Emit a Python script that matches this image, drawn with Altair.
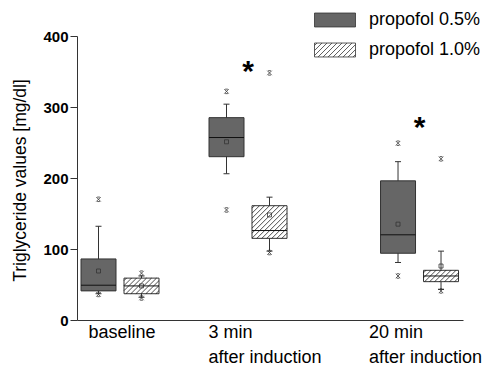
import altair as alt
import pandas as pd
import numpy as np

# ---------------- data ----------------
time_labels = ["baseline", "3 min|after induction", "20 min|after induction"]
time_pos = [1.0, 2.0, 3.34]
treatments = ["propofol 0.5%", "propofol 1.0%"]

# boxes in order: baseline 0.5, baseline 1.0, 3min 0.5, 3min 1.0, 20min 0.5, 20min 1.0
box_time = [0, 0, 1, 1, 2, 2]
box_treat = [0, 1, 0, 1, 0, 1]
q1 = [41, 37, 230, 115, 94, 54]
median = [49, 48, 257, 126, 120, 62]
q3 = [86, 59, 285, 161, 196, 70]
mean = [69, 48, 251, 148, 135, 76]
whisk_hi = [132, 62, 304, 173, 223, 97]
whisk_lo = [37, 32, 206, 97, 81, 43]
v_max = [170, 66, 322, 348, 249, 227]
v_min = [36, 31, 155, 95, 62, 41]

sig_time = [1, 2]
sig_y = [350, 271]

# ---------------- layout constants ----------------
W, H = 386, 284
x_dom = [0.664, 0.664 + W / 128.0]
y_dom = [0, 400]
px_x = W / (x_dom[1] - x_dom[0])
px_y = H / (y_dom[1] - y_dom[0])
half_w = 17.5 / px_x
offset = 21.5 / px_x
cap_w = 3.0 / px_x
dark = "#666666"
edge = "#333333"

df = pd.DataFrame({
    "time": [time_labels[i] for i in box_time],
    "treatment": [treatments[i] for i in box_treat],
    "x": [time_pos[t] + (-offset if k == 0 else offset) for t, k in zip(box_time, box_treat)],
    "q1": q1, "median": median, "q3": q3, "mean": mean,
    "whi": whisk_hi, "wlo": whisk_lo, "vmax": v_max, "vmin": v_min,
})
df["xl"] = df["x"] - half_w
df["xr"] = df["x"] + half_w
df["fillc"] = [dark if k == 0 else "white" for k in box_treat]

caps = pd.concat([
    pd.DataFrame({"x1": df["x"] - cap_w, "x2": df["x"] + cap_w, "y": df["whi"]}),
    pd.DataFrame({"x1": df["x"] - cap_w, "x2": df["x"] + cap_w, "y": df["wlo"]}),
])
extremes = pd.concat([
    pd.DataFrame({"x": df["x"], "y": df["vmax"]}),
    pd.DataFrame({"x": df["x"], "y": df["vmin"]}),
])


def hatch_segments(x0, x1, u0, u1, step):
    segs = []
    c = x0 - u1 + step / 2
    while c < x1 - u0:
        xa = max(x0, u0 + c)
        xb = min(x1, u1 + c)
        if xb > xa:
            segs.append((xa, xa - c, xb, xb - c))
        c += step
    return segs


rows = []
for _, r in df[df["fillc"] == "white"].iterrows():
    X0 = (r["xl"] - x_dom[0]) * px_x
    X1 = (r["xr"] - x_dom[0]) * px_x
    U0 = r["q1"] * px_y
    U1 = r["q3"] * px_y
    for xa, ua, xb, ub in hatch_segments(X0, X1, U0, U1, 5.0):
        rows.append({"x": xa / px_x + x_dom[0], "y": ua / px_y,
                     "x2": xb / px_x + x_dom[0], "y2": ub / px_y})
hatch = pd.DataFrame(rows)

# legend symbol paths
rect_path = "M-1,-0.34H1V0.34H-1Z"
lp = []
for xa, ua, xb, ub in hatch_segments(-1, 1, -0.34, 0.34, 0.244):
    lp.append(f"M{xa:.3f},{-ua:.3f}L{xb:.3f},{-ub:.3f}")
hatch_path = rect_path + " " + " ".join(lp)

sig = pd.DataFrame({"x": [time_pos[i] for i in sig_time], "y": sig_y})
leg = pd.DataFrame({"treatment": treatments, "nothing": [None, None]})

FONT = "Liberation Sans"

xscale = alt.Scale(domain=x_dom, nice=False, zero=False)
yscale = alt.Scale(domain=y_dom, nice=False)

x_axis = alt.Axis(
    values=time_pos,
    labelExpr="datum.value < 1.5 ? 'baseline' : datum.value < 2.5 ? ['3 min', 'after induction'] : ['20 min', 'after induction']",
    ticks=False, grid=False, title=None,
    labelAlign="left", labelBaseline="top",
    labelOffset={"condition": [{"test": "datum.value < 1.5", "value": -32},
                               {"test": "datum.value < 2.5", "value": -40}],
                 "value": -51},
    labelFont=FONT, labelFontSize=18, labelLineHeight=25, labelPadding=3,
    labelColor="black", domainColor=edge, labelFlush=False, labelOverlap=False,
)
y_axis = alt.Axis(
    values=list(range(0, 401, 50)),
    labelExpr="datum.value % 100 == 0 ? datum.label : ''",
    tickSize={"condition": {"test": "datum.value % 100 == 0", "value": 7}, "value": 3},
    grid=False, title="Triglyceride values [mg/dl]",
    titleFont=FONT, titleFontSize=17.5, titleFontWeight="normal", titleColor="black",
    titlePadding=13, titleY=144,
    labelFont=FONT, labelFontSize=15, labelFontWeight="bold", labelColor="black",
    labelPadding=2, domainColor=edge, tickColor=edge,
)

base = alt.Chart(df)

whiskers = base.mark_rule(color=edge, strokeWidth=1).encode(
    x=alt.X("x:Q", scale=xscale, axis=x_axis),
    y=alt.Y("wlo:Q", scale=yscale, axis=y_axis),
    y2="whi:Q",
)
cap_layer = alt.Chart(caps).mark_rule(color=edge, strokeWidth=1).encode(
    x="x1:Q", x2="x2:Q", y="y:Q")
boxes = base.mark_rect(stroke=edge, strokeWidth=1).encode(
    x="xl:Q", x2="xr:Q", y="q1:Q", y2="q3:Q",
    fill=alt.Fill("fillc:N", scale=None),
)
hatch_layer = alt.Chart(hatch).mark_rule(color="black", strokeWidth=0.7).encode(
    x="x:Q", y="y:Q", x2="x2:Q", y2="y2:Q")
medians = base.mark_rule(color="#111111", strokeWidth=1).encode(
    x="xl:Q", x2="xr:Q", y="median:Q")
means = base.mark_point(shape="square", size=16, filled=False, color=edge,
                        strokeWidth=0.8, opacity=1).encode(x="x:Q", y="mean:Q")
ext_layer = alt.Chart(extremes).mark_point(
    shape="M-1,-1L1,1M-1,1L1,-1M-0.6,-1H0.6M-0.6,1H0.6", size=20, filled=False,
    color=edge, strokeWidth=0.8, opacity=1).encode(x="x:Q", y="y:Q")
stars = alt.Chart(sig).mark_text(text="*", font=FONT, fontSize=30, fontWeight="bold",
                                 baseline="middle", align="center", color="black").encode(
    x="x:Q", y="y:Q")

legend_props = dict(title=None, orient="none", legendX=237, legendY=-37,
                    labelFont=FONT, labelFontSize=18, labelColor="black",
                    symbolSize=1681, symbolStrokeColor=edge,
                    symbolStrokeWidth=0.8, labelOffset=13, rowPadding=-3)

legend_layer = alt.Chart(leg).mark_point(filled=True, opacity=1).encode(
    x="nothing:Q", y="nothing:Q",
    fill=alt.Fill("treatment:N", scale=alt.Scale(domain=treatments, range=[dark, "white"]),
                  legend=alt.Legend(**legend_props)),
    shape=alt.Shape("treatment:N", scale=alt.Scale(domain=treatments, range=[rect_path, hatch_path]),
                    legend=alt.Legend(**legend_props)),
)

chart = alt.layer(
    whiskers, cap_layer, boxes, hatch_layer, medians, means, ext_layer, stars, legend_layer
).properties(
    width=W, height=H,
    padding={"left": 69, "top": 28, "right": 24, "bottom": 46},
    autosize=alt.AutoSizeParams(type="none"),
    background="white",
).configure_view(stroke=None)

chart.save("out.html", embed_options={"renderer": "svg", "actions": False})
